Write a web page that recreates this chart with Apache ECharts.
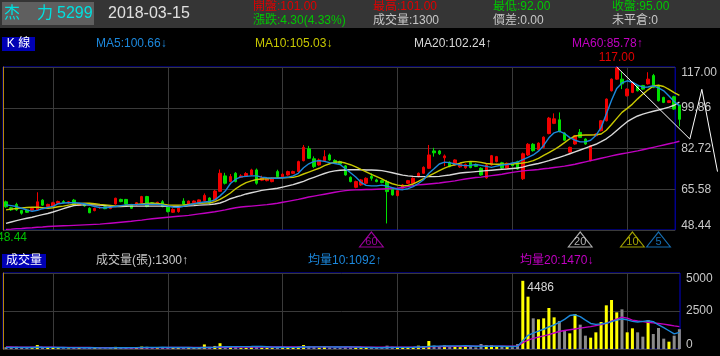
<!DOCTYPE html>
<html><head><meta charset="utf-8">
<script src="https://cdn.jsdelivr.net/npm/echarts@6/dist/echarts.min.js"></script>
<style>html,body{margin:0;padding:0;background:#000;}#c{width:720px;height:356px;}</style>
</head><body><div id="c"></div>
<script>
// ---------- data ----------
const stockName = ['杰', '力'];
const stockCode = '5299';
const monthDays = [
  ['2017-08', [31]],
  ['2017-09', [1,4,5,6,7,8,11,12,13,14,15,18,19,20,21,22,25,26,27,28,29]],
  ['2017-10', [2,3,5,6,11,12,13,16,17,18,19,20,23,24,25,26,27,30,31]],
  ['2017-11', [1,2,3,6,7,8,9,10,13,14,15,16,17,20,21,22,23,24,27,28,29,30]],
  ['2017-12', [1,4,5,6,7,8,11,12,13,14,15,18,19,20,21,22,25,26,27,28,29]],
  ['2018-01', [2,3,4,5,8,9,10,11,12,15,16,17,18,19,22,23,24,25,26,29,30,31]],
  ['2018-02', [1,2,5,6,7,8,9,12,21,22,23,26,27]],
  ['2018-03', [1,2,5,6,7,8,9,12,13,14,15]]
];
const open = [60.3,57.8,59.2,56.6,56.8,56.8,56.9,61.0,58.3,58.3,
59.7,60.4,59.9,61.0,58.8,59.3,57.6,56.6,57.8,58.2,
57.5,59.4,61.3,61.3,59.2,59.0,59.9,62.5,59.9,59.5,
60.3,58.3,55.9,56.2,60.6,59.3,59.9,59.8,60.8,61.9,
61.1,64.7,71.2,68.8,72.3,70.6,71.0,71.6,73.7,69.4,
69.2,68.8,73.0,70.9,71.6,72.3,73.0,77.6,82.6,78.4,
75.8,77.6,80.0,77.7,77.2,75.4,70.6,66.4,67.4,68.1,
71.0,69.5,69.2,68.8,66.0,62.9,66.0,68.1,68.1,70.9,
72.3,74.4,81.7,81.7,78.8,76.9,75.8,75.0,74.6,76.9,
76.0,74.4,70.4,75.8,77.2,76.7,74.4,76.2,77.2,70.0,
80.0,84.5,82.2,83.2,89.0,93.3,94.8,89.2,81.2,84.6,
89.5,86.7,77.6,88.1,90.2,94.4,107.0,111.9,111.9,104.9,
106.3,109.2,109.2,109.9,113.4,109.2,104.2,102.1,104.5,101.0];
const high = [60.8,58.2,59.9,56.9,57.2,57.8,64.3,61.4,59.5,60.3,
60.8,61.0,60.6,61.5,59.8,59.6,58.0,57.8,58.3,58.5,
58.3,62.0,61.6,61.5,59.4,60.2,62.8,62.8,60.2,60.3,
61.0,58.5,57.6,58.2,61.8,60.8,60.9,61.3,63.8,62.2,
65.3,73.9,72.5,72.0,72.8,71.9,72.8,74.2,74.3,71.3,
70.6,70.5,73.8,72.3,73.4,73.4,77.6,84.2,83.8,79.4,
78.5,82.0,80.6,78.2,77.6,75.8,71.0,69.2,69.9,70.6,
72.3,70.0,69.6,69.5,66.5,65.4,67.8,69.5,70.6,72.6,
75.2,84.2,83.0,82.1,80.2,77.3,78.2,76.6,76.4,77.3,
76.4,74.8,76.2,80.0,79.6,77.1,76.8,76.6,77.6,81.0,
85.0,85.0,85.3,87.8,96.0,97.5,97.9,89.6,83.5,88.4,
90.9,87.0,84.2,89.1,94.7,103.8,112.2,117.0,114.8,108.0,
110.8,109.5,109.5,114.8,114.1,109.5,104.5,103.1,104.9,101.0];
const low = [57.8,56.5,56.5,54.9,55.6,56.4,56.5,58.6,58.0,58.0,
59.4,59.6,59.5,58.7,58.5,58.2,55.5,56.3,57.3,57.2,
57.2,59.1,60.1,59.2,57.3,58.8,59.6,58.0,59.0,59.2,
58.0,55.8,55.6,55.7,59.0,59.1,59.7,59.6,60.5,59.5,
60.8,64.5,67.6,68.5,68.5,70.3,70.8,71.3,67.5,69.0,
68.9,68.5,70.3,70.6,71.3,72.0,72.8,77.3,78.3,74.5,
75.5,77.2,77.6,76.6,75.9,71.3,68.5,66.0,67.0,67.8,
69.2,68.5,68.1,51.2,62.9,62.6,65.7,67.8,67.8,70.6,
72.0,74.1,79.3,80.0,75.3,74.8,75.5,74.6,74.2,74.4,
74.9,71.3,70.0,75.5,76.9,74.3,74.1,75.2,73.8,69.5,
79.6,81.4,81.9,82.8,88.7,93.0,89.5,86.0,80.9,84.3,
87.1,84.3,77.3,87.8,89.9,94.1,106.7,111.6,107.7,104.6,
106.0,106.7,107.4,109.6,108.1,102.5,101.8,101.8,99.0,92.0];
const close = [58.2,56.9,56.9,55.5,55.9,57.5,60.3,58.9,59.2,59.9,
60.4,60.0,60.3,58.9,59.6,58.6,55.7,57.5,58.0,57.4,
58.1,61.8,60.4,59.4,57.6,59.9,62.5,58.3,59.2,60.1,
58.3,56.2,57.1,58.0,59.3,60.6,60.6,61.1,63.0,59.8,
64.8,72.3,68.1,70.9,68.8,71.2,72.2,73.7,68.1,70.4,
70.2,70.2,70.9,71.9,73.0,73.0,77.2,83.2,78.6,75.1,
77.9,79.3,77.9,76.8,76.2,71.6,68.8,68.8,69.5,70.2,
70.2,68.8,68.4,64.6,63.2,65.0,67.4,69.2,70.2,72.3,
74.8,80.0,80.9,80.5,79.6,75.1,77.9,76.3,76.0,74.7,
75.2,71.6,75.8,79.7,79.3,74.6,76.5,75.5,74.1,80.5,
84.5,81.8,85.0,87.5,95.5,95.2,89.8,86.2,83.2,88.1,
87.4,84.6,83.9,88.8,94.4,103.5,111.9,116.6,109.9,107.7,
110.5,107.0,107.7,111.9,108.4,102.8,102.1,102.8,99.3,95.0];
const ma5 = [59.0,58.7,58.3,57.6,56.9,56.3,56.7,57.4,57.9,58.4,
59.5,59.8,59.9,59.9,59.8,59.5,58.9,58.3,57.9,57.8,
58.0,58.3,58.7,59.0,59.1,59.1,59.2,59.3,59.2,59.2,
59.0,58.5,58.1,58.0,58.4,59.0,59.5,59.9,60.2,60.4,
61.1,62.8,64.8,68.0,69.8,70.8,71.0,71.2,71.2,70.7,
70.4,70.2,70.2,70.4,70.6,71.2,72.3,74.6,76.3,77.3,
77.6,77.3,76.8,76.4,76.0,74.2,72.5,70.7,68.5,67.2,
67.0,67.0,67.3,66.9,66.2,65.6,65.4,65.8,66.7,68.0,
69.6,72.3,74.2,76.2,77.0,76.8,76.2,75.8,75.5,75.6,
76.0,75.6,75.2,74.8,75.3,75.8,76.0,76.6,77.0,78.0,
79.0,80.0,81.6,84.0,87.2,89.3,90.0,89.0,87.3,86.2,
85.5,85.5,86.2,88.2,91.5,97.2,103.0,108.0,110.3,111.2,
110.6,109.4,108.5,108.6,109.1,108.2,107.0,104.8,102.5,100.66];
const ma10 = [56.9,57.2,57.5,57.7,57.9,58.0,58.0,57.8,57.6,57.8,
58.2,58.5,58.9,59.3,59.5,59.7,59.7,59.5,59.2,59.0,
58.8,58.5,58.6,58.8,59.0,59.2,59.4,59.6,59.7,59.6,
59.3,59.0,58.9,58.9,59.0,59.2,59.4,59.7,59.8,59.8,
60.4,61.3,62.6,64.0,65.8,67.2,68.4,69.1,69.7,69.9,
70.0,70.2,70.3,70.4,70.5,70.6,71.1,72.0,72.8,73.6,
74.4,75.5,76.3,77.0,77.1,76.6,75.9,75.0,73.9,72.9,
71.8,70.9,69.9,68.8,67.9,67.3,67.0,67.2,67.8,68.9,
70.0,71.2,72.3,73.4,74.5,75.3,75.9,76.6,77.1,77.3,
77.2,76.9,76.4,76.2,76.1,76.1,76.1,76.2,76.4,76.6,
77.0,77.6,78.6,79.8,81.0,82.2,83.6,85.2,86.8,88.0,
88.3,88.4,88.4,88.5,88.8,90.4,92.8,95.4,97.9,99.6,
101.4,103.6,105.6,107.4,109.0,109.3,108.8,107.6,106.2,105.03];
const ma20 = [51.2,51.8,52.4,52.9,53.4,53.8,54.4,54.9,55.4,56.0,
56.7,57.4,58.1,58.7,58.9,59.0,59.0,59.0,58.9,58.7,
58.5,58.3,58.3,58.4,58.5,58.5,58.5,58.5,58.5,58.5,
58.5,58.4,58.3,58.3,58.4,58.6,58.7,58.9,59.0,59.1,
59.4,59.8,60.6,61.6,62.3,62.9,63.6,64.1,64.6,65.1,
65.4,65.7,66.0,66.5,67.0,67.5,68.2,68.9,69.8,70.6,
71.4,72.2,72.9,73.3,73.6,73.7,73.8,73.8,73.8,73.7,
73.7,73.6,73.4,73.0,72.5,72.0,71.5,71.2,71.0,70.9,
70.9,70.9,70.9,71.0,71.3,71.6,72.0,72.4,72.6,72.8,
73.0,73.2,73.4,73.6,73.8,74.0,74.1,74.3,74.5,74.9,
75.5,76.0,76.4,77.0,77.6,78.3,79.0,79.7,80.5,81.3,
82.1,82.9,83.7,84.5,85.6,86.8,88.4,90.3,92.2,94.0,
95.3,96.4,97.2,97.8,98.4,98.9,99.5,100.1,100.9,102.24];
const ma60 = [48.7,48.8,49.0,49.1,49.3,49.4,49.6,49.7,49.9,50.0,
50.1,50.2,50.3,50.4,50.5,50.6,50.7,50.8,50.9,51.1,
51.3,51.5,51.7,51.9,52.1,52.4,52.6,52.9,53.2,53.4,
53.6,53.8,54.0,54.2,54.4,54.6,54.9,55.2,55.5,55.8,
56.1,56.5,56.9,57.4,57.8,58.1,58.3,58.5,58.7,58.9,
59.1,59.4,59.7,60.1,60.5,60.9,61.3,61.8,62.3,62.7,
63.1,63.5,63.9,64.3,64.7,65.0,65.2,65.3,65.4,65.5,
65.5,65.6,65.7,65.8,65.9,66.0,66.3,66.7,67.1,67.4,
67.6,67.8,68.0,68.2,68.5,68.8,69.1,69.5,69.9,70.2,
70.5,70.7,71.0,71.3,71.6,71.9,72.3,72.7,73.0,73.3,
73.5,73.7,73.9,74.2,74.4,74.7,75.0,75.3,75.7,76.1,
76.6,77.1,77.6,78.1,78.6,79.1,79.6,80.1,80.5,80.9,
81.3,81.7,82.2,82.7,83.2,83.7,84.2,84.7,85.2,85.78];
const volume = [120,80,150,90,70,60,260,110,70,80,
60,50,40,90,60,50,120,60,40,50,
45,140,90,80,110,70,160,150,60,50,
70,110,80,90,100,70,60,120,300,140,
200,380,180,120,150,60,70,120,180,80,
70,60,110,60,90,70,150,260,200,160,
90,170,110,80,70,130,110,90,60,80,
120,70,60,220,150,110,100,90,120,220,
180,526,230,160,240,140,150,120,180,130,
110,330,250,240,180,150,140,120,330,4486,
3443,2018,1952,2018,2697,2083,1842,1184,1031,2303,
1601,877,746,1096,1776,2873,3224,2412,2610,1096,
1360,1096,811,1886,987,1382,680,482,877,1300];
const volMa10 = [110,110,108,105,103,100,115,112,110,108,
100,95,88,90,88,80,82,80,77,75,
70,78,80,82,88,90,100,106,108,110,
112,108,100,98,95,95,85,82,100,104,
115,140,150,152,157,155,158,160,168,160,
148,124,117,111,105,106,114,128,130,138,
140,142,140,136,134,140,138,126,112,104,
100,92,87,101,108,106,108,108,115,129,
132,174,184,190,202,200,205,208,212,197,
180,176,178,186,180,180,160,162,177,550,
900,1050,1180,1300,1450,1580,1750,1950,2200,2250,
2130,1900,1680,1620,1650,1690,1800,1900,1970,1920,
1820,1780,1820,1860,1800,1580,1400,1200,990,1092];
const volMa20 = [130,128,126,122,120,118,120,118,116,114,
110,108,104,100,98,96,94,92,90,88,
88,90,88,86,85,84,86,88,88,90,
92,94,95,96,96,95,95,95,98,100,
105,115,120,122,125,126,128,128,132,132,
132,132,132,132,134,134,136,138,140,140,
142,142,140,138,136,135,134,132,128,124,
122,120,118,122,124,122,120,118,120,125,
130,150,158,160,165,168,170,172,175,178,
180,182,185,188,190,190,188,186,190,420,
580,700,780,860,950,1050,1150,1220,1270,1320,
1370,1420,1470,1540,1600,1690,1830,1970,2100,2030,
1900,1840,1800,1760,1720,1680,1640,1580,1520,1470];
const prevClose = 99.3;
const spread = 0;
const openInterest = 0;
// hand-drawn zig-zag trend line (x = bar position, y = price)
const trendLine = [[117, 117.0], [131.0, 86.7], [133.3, 107.6], [136.3, 73.0]];
// price axis scale & volume axis ticks
const priceMin = 48.44, priceMax = 117.00, priceStep = 17.14;
const volTicks = [0, 2500, 5000];
const markerPeriods = [60, 20, 10, 5];

// ---------- derived ----------
const dates = monthDays.flatMap(([m, ds]) => ds.map(d => m + '-' + String(d).padStart(2, '0')));
const n = close.length;
const L = n - 1;
const FF = "'Liberation Sans','Noto Sans CJK TC',sans-serif";
const C = {
  red: '#f00000', green: '#00e000', ma5: '#1c88dc', ma10: '#c8c800', ma20: '#d8d8d8',
  ma60: '#c000c0', grid: '#3a3a3a', frame: '#0000d0', gold: '#b8860b', label: '#c8c8c8',
  volUp: '#ffff00', volDown: '#8a8a8a'
};
const arrow = a => (a[L] >= a[L - 1] ? '↑' : '↓');
const f2 = v => v.toFixed(2);
const chg = close[L] - prevClose;
const colorVs = v => (v > prevClose ? '#e00000' : v < prevClose ? '#00c800' : C.label);
const markerColor = {60: C.ma60, 20: C.ma20, 10: C.ma10, 5: C.ma5};

// layout of the data area
const dataLeft = 6, dataRight = 40.6;
const barStep = (720 - dataLeft - dataRight) / (n - 1);
const trendAxisMax = Math.floor((720 - dataLeft) / barStep * 100) / 100;

function txt(x, y, s, color, size, extra) {
  return Object.assign({ type: 'text', x, y, z: 10, silent: true,
    style: { text: s, fill: color, font: size + 'px ' + FF, verticalAlign: 'middle', align: 'left' } }, extra || {});
}
const graphics = [
  { type: 'rect', shape: { x: 0, y: 0, width: 720, height: 28 }, style: { fill: '#353535' }, z: 1, silent: true },
  { type: 'rect', shape: { x: 2, y: 2, width: 92, height: 23 }, style: { fill: '#5f5f5f' }, z: 2, silent: true },
  txt(4, 14, stockName[0], '#00e0e0', 16),
  txt(37, 14, stockName[1], '#00e0e0', 16),
  txt(57, 14, stockCode, '#00e0e0', 16),
  txt(108, 14, dates[L], '#e0e0e0', 16),
  txt(253, 7, '開盤:' + f2(open[L]), colorVs(open[L]), 12),
  txt(253, 21, '漲跌:' + f2(Math.abs(chg)) + '(' + f2(Math.abs(chg) / prevClose * 100) + '%)', chg >= 0 ? '#e00000' : '#00c800', 12),
  txt(373, 7, '最高:' + f2(high[L]), colorVs(high[L]), 12),
  txt(373, 21, '成交量:' + volume[L], C.label, 12),
  txt(493, 7, '最低:' + f2(low[L]), colorVs(low[L]), 12),
  txt(493, 21, '價差:' + f2(spread), C.label, 12),
  txt(612, 7, '收盤:' + f2(close[L]), colorVs(close[L]), 12),
  txt(612, 21, '未平倉:' + openInterest, C.label, 12),
  { type: 'rect', shape: { x: 2, y: 37, width: 33, height: 14 }, style: { fill: '#0000b4' }, z: 2, silent: true },
  txt(18.5, 44, 'K 線', '#ffffff', 12, { style: { text: 'K 線', fill: '#fff', font: '12px ' + FF, verticalAlign: 'middle', align: 'center' } }),
  txt(96, 44, 'MA5:' + f2(ma5[L]) + arrow(ma5), C.ma5, 12),
  txt(255, 44, 'MA10:' + f2(ma10[L]) + arrow(ma10), C.ma10, 12),
  txt(414, 44, 'MA20:' + f2(ma20[L]) + arrow(ma20), C.ma20, 12),
  txt(572, 44, 'MA60:' + f2(ma60[L]) + arrow(ma60), C.ma60, 12),
  txt(-3, 238, f2(priceMin), '#00c000', 12),
  { type: 'rect', shape: { x: 2, y: 254, width: 44, height: 14 }, style: { fill: '#0000b4' }, z: 2, silent: true },
  txt(24, 261, '成交量', '#fff', 12, { style: { text: '成交量', fill: '#fff', font: '12px ' + FF, verticalAlign: 'middle', align: 'center' } }),
  txt(96, 261, '成交量(張):' + volume[L] + arrow(volume), C.label, 12),
  txt(308, 261, '均量10:' + volMa10[L] + arrow(volMa10), C.ma5, 12),
  txt(520, 261, '均量20:' + volMa20[L] + arrow(volMa20), C.ma60, 12)
];

const gridLineIdx = (i) => ((i - 9) % 22 + 22) % 22 === 0;
const catAxis = (gi) => ({
  type: 'category', gridIndex: gi, data: dates, boundaryGap: false,
  axisLine: { show: false }, axisTick: { show: false }, axisLabel: { show: false },
  splitLine: { show: true, interval: gridLineIdx, lineStyle: { color: C.grid, width: 1 } }
});
const hiddenVal = (gi, min, max) => ({ type: 'value', gridIndex: gi, min, max, show: false });
const rich = (size) => ({
  t: { padding: [12, 0, 0, 0], color: C.label, fontSize: size, fontFamily: FF },
  b: { padding: [0, 0, 9, 0], color: C.label, fontSize: size, fontFamily: FF }
});
const maLine = (name, data, color) => ({
  name, type: 'line', xAxisIndex: 1, yAxisIndex: 1, data, showSymbol: false, symbol: 'none',
  lineStyle: { color, width: 1.4 }, silent: true, z: 3
});

const option = {
  backgroundColor: '#000',
  animation: false,
  textStyle: { fontFamily: FF },
  graphic: graphics,
  grid: [
    { left: 3, right: 40, top: 67, height: 163, show: true, borderColor: C.frame, borderWidth: 1, backgroundColor: 'transparent' },
    { left: dataLeft, right: dataRight, top: 67, height: 163 },
    { left: 3, right: 40, top: 273, height: 76, show: true, borderColor: C.frame, borderWidth: 1, backgroundColor: 'transparent' },
    { left: dataLeft, right: dataRight, top: 273, height: 76 },
    { left: dataLeft, right: dataRight, top: 231, height: 17 },
    { left: dataLeft, width: barStep * trendAxisMax, top: 67, height: 163 }
  ],
  xAxis: [
    hiddenVal(0, 0, 1),
    catAxis(1),
    hiddenVal(5, 0, trendAxisMax),
    catAxis(3),
    hiddenVal(2, 0, 1),
    Object.assign(catAxis(4), { splitLine: { show: false }, show: false })
  ],
  yAxis: [
    { type: 'value', gridIndex: 0, position: 'right', min: priceMin, max: priceMax, interval: priceStep,
      axisLine: { show: true, lineStyle: { color: C.gold, width: 1 } }, axisTick: { show: false },
      splitLine: { show: true, lineStyle: { color: C.grid, width: 1 } },
      axisLabel: { color: C.label, fontSize: 12, margin: 6, fontFamily: FF, rich: rich(12),
        formatter: v => Math.abs(v - priceMax) < 1e-6 ? '{t|' + f2(v) + '}' : Math.abs(v - priceMin) < 1e-6 ? '{b|' + f2(v) + '}' : f2(v) } },
    hiddenVal(1, priceMin, priceMax),
    { type: 'value', gridIndex: 2, position: 'right', min: volTicks[0], max: volTicks[2], interval: volTicks[1] - volTicks[0],
      axisLine: { show: true, lineStyle: { color: C.gold, width: 1 } }, axisTick: { show: false },
      splitLine: { show: true, lineStyle: { color: C.grid, width: 1 } },
      axisLabel: { color: C.label, fontSize: 12, margin: 6, fontFamily: FF, rich: rich(12),
        formatter: v => v === volTicks[2] ? '{t|' + v + '}' : v === volTicks[0] ? '{b|' + v + '}' : String(v) } },
    hiddenVal(3, volTicks[0], volTicks[2]),
    hiddenVal(4, 0, 1),
    hiddenVal(5, priceMin, priceMax)
  ],
  series: [
    { name: 'K', type: 'candlestick', xAxisIndex: 1, yAxisIndex: 1, barWidth: 3, silent: true,
      data: open.map((o, i) => [o, close[i], low[i], high[i]]),
      itemStyle: { color: C.red, color0: C.green, borderColor: C.red, borderColor0: C.green, borderWidth: 1 },
      markPoint: { symbol: 'circle', symbolSize: 1, itemStyle: { color: 'rgba(0,0,0,0)' }, silent: true,
        label: { show: true, position: 'top', distance: 3, color: '#e00000', fontSize: 12, fontFamily: FF, formatter: p => f2(p.value) },
        data: [{ type: 'max', valueDim: 'highest' }] } },
    maLine('MA60', ma60, C.ma60),
    maLine('MA20', ma20, C.ma20),
    maLine('MA10', ma10, C.ma10),
    maLine('MA5', ma5, C.ma5),
    { name: 'trend', type: 'line', xAxisIndex: 2, yAxisIndex: 5, data: trendLine, clip: false, showSymbol: false, symbol: 'none',
      lineStyle: { color: '#ffffff', width: 1 }, silent: true, z: 4 },
    { name: 'vol', type: 'bar', xAxisIndex: 3, yAxisIndex: 3, barWidth: 3, silent: true,
      data: volume.map((v, i) => ({ value: v, itemStyle: { color: close[i] >= open[i] ? C.volUp : C.volDown } })),
      markPoint: { symbol: 'circle', symbolSize: 1, itemStyle: { color: 'rgba(0,0,0,0)' }, silent: true,
        label: { show: true, position: 'right', distance: 4, offset: [0, 7], color: '#d8d8d8', fontSize: 12, fontFamily: FF, formatter: p => String(p.value) },
        data: [{ type: 'max' }] } },
    { name: 'vma20', type: 'line', xAxisIndex: 3, yAxisIndex: 3, data: volMa20, showSymbol: false, symbol: 'none', lineStyle: { color: C.ma60, width: 1.4 }, silent: true, z: 3 },
    { name: 'vma10', type: 'line', xAxisIndex: 3, yAxisIndex: 3, data: volMa10, showSymbol: false, symbol: 'none', lineStyle: { color: C.ma5, width: 1.4 }, silent: true, z: 3 },
    { name: 'markers', type: 'scatter', xAxisIndex: 5, yAxisIndex: 4, symbol: 'triangle', symbolSize: [24, 15], silent: true,
      data: markerPeriods.map(p => ({ value: [n - p, 0.5],
        itemStyle: { color: 'rgba(0,0,0,0)', borderColor: markerColor[p], borderWidth: 1 },
        label: { show: true, position: 'inside', offset: [0, 2], formatter: String(p), color: markerColor[p], fontSize: 11, fontFamily: FF } })) }
  ]
};
const chart = echarts.init(document.getElementById('c'), null, { renderer: 'canvas' });
chart.setOption(option);
</script>
</body></html>
